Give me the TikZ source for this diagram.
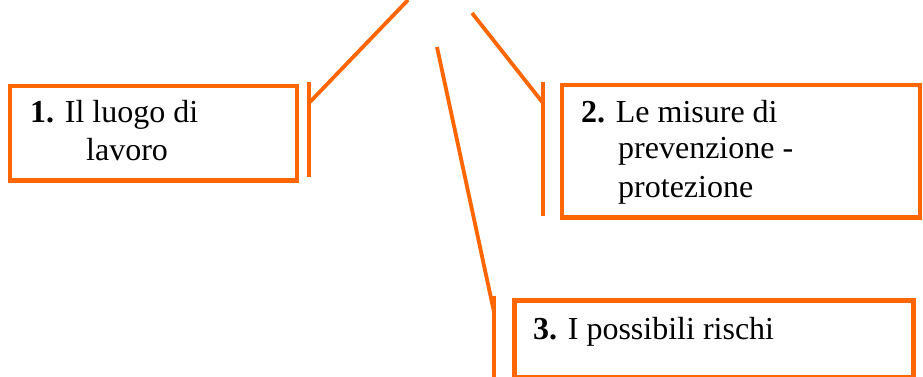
\documentclass[tikz,border=0pt]{standalone}
\usepackage{fontspec}
\setmainfont{Liberation Serif}
\definecolor{callout}{HTML}{FF6600}
\begin{document}
\begin{tikzpicture}[x=1pt,y=-1pt,
  box/.style={draw=callout,line width=4.5pt,inner sep=0pt,anchor=north west},
  leader/.style={draw=callout,line width=3.8pt},
  label/.style={anchor=base west,inner sep=0pt,font=\fontsize{32}{37}\selectfont}]
\useasboundingbox (0,0) rectangle (923,377);

% the three text boxes
\node[box,minimum width=287pt,minimum height=94pt] (b1) at (7.5,84) {};
\node[box,minimum width=358pt,minimum height=132pt] (b2) at (559.5,83) {};
\node[box,minimum width=399pt,minimum height=77pt] (b3) at (512,298) {};

% box texts
\node[label] (t1a) at (30,123) {\textbf{1.} Il luogo di};
\node[label] (t1b) at (86,160) {lavoro};
\node[label] (t2a) at (581,123) {\textbf{2.} Le misure di};
\node[label] (t2b) at (618,158) {prevenzione -};
\node[label] (t2c) at (618,197) {protezione};
\node[label] (t3a) at (533,339) {\textbf{3.} I possibili rischi};

% callout leaders: bar beside each box plus a slanted line
\coordinate (c1top) at (309,82);
\coordinate (c1bot) at (309,177);
\coordinate (c1knee) at (309,103);
\coordinate (c1end) at (408,0);
\coordinate (c2top) at (543,82);
\coordinate (c2bot) at (543,216);
\coordinate (c2knee) at (543,103);
\coordinate (c2end) at (472,13);
\coordinate (c3top) at (494,296);
\coordinate (c3bot) at (494,377);
\coordinate (c3knee) at (494,312);
\coordinate (c3end) at (437,47);

\draw[leader] (c1top) -- (c1bot);
\draw[leader] (c1knee) -- (c1end);
\draw[leader] (c2top) -- (c2bot);
\draw[leader] (c2knee) -- (c2end);
\draw[leader] (c3top) -- (c3bot);
\draw[leader] (c3knee) -- (c3end);
\end{tikzpicture}
\end{document}
